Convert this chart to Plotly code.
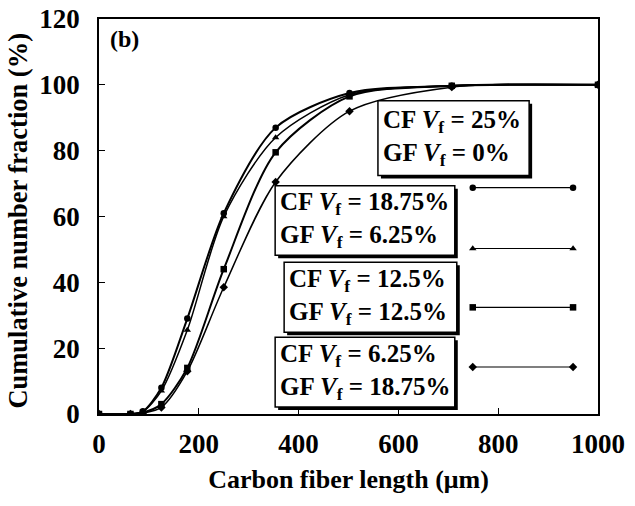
import plotly.graph_objects as go

# ---- data ----
fiber_length = [0, 63, 88, 125, 177, 250, 354, 502, 707, 1000]
cf25_gf0 = [0, 0, 0.8, 8, 29, 61, 87, 97.5, 99.7, 100]
cf1875_gf625 = [0, 0, 0.7, 7, 25.5, 60, 84, 97, 99.7, 100]
cf125_gf125 = [0, 0, 0.4, 3, 14, 44, 79.5, 96.5, 99.7, 100]
cf625_gf1875 = [0, 0, 0.3, 2, 13, 38.5, 70.5, 92, 99.3, 100]

series_labels = [
    ["CF <i>V</i><sub>f</sub> = 25%", "GF <i>V</i><sub>f</sub> = 0%"],
    ["CF <i>V</i><sub>f</sub> = 18.75%", "GF <i>V</i><sub>f</sub> = 6.25%"],
    ["CF <i>V</i><sub>f</sub> = 12.5%", "GF <i>V</i><sub>f</sub> = 12.5%"],
    ["CF <i>V</i><sub>f</sub> = 6.25%", "GF <i>V</i><sub>f</sub> = 18.75%"],
]
series_values = [cf25_gf0, cf1875_gf625, cf125_gf125, cf625_gf1875]
symbols = ["circle", "triangle-up", "square", "diamond"]
line_widths = [2, 1.5, 2, 1.5]

x_ticks = [0, 200, 400, 600, 800, 1000]
y_ticks = [0, 20, 40, 60, 80, 100, 120]

x_title = "Carbon fiber length (μm)"
y_title = "Cumulative number fraction (%)"

# ---- layout/style constants ----
FONT = "Liberation Serif"
# text boxes (paper coords): x0, x1, y0, y1
BOXES = [
    (0.559, 0.862, 0.604, 0.793),
    (0.353, 0.713, 0.402, 0.578),
    (0.371, 0.717, 0.207, 0.384),
    (0.353, 0.713, 0.018, 0.194),
]
# legend key samples (paper coords)
KEY_X = (0.749, 0.950)
KEY_Y = [0.573, 0.419, 0.270, 0.119]

fig = go.Figure()
for vals, sym, lw in zip(series_values, symbols, line_widths):
    fig.add_trace(go.Scatter(
        x=fiber_length, y=vals, mode="lines+markers",
        line=dict(color="black", width=lw, shape="spline", smoothing=0.8),
        marker=dict(symbol=sym, size=6.5, color="black"),
        showlegend=False, hoverinfo="skip",
    ))

# legend key samples on an overlay axis in paper-like units
for ky, sym in zip(KEY_Y, symbols):
    fig.add_trace(go.Scatter(
        x=list(KEY_X), y=[ky, ky], xaxis="x2", yaxis="y2",
        mode="lines+markers",
        line=dict(color="black", width=1.1),
        marker=dict(symbol=sym, size=6.5, color="black"),
        showlegend=False, hoverinfo="skip",
    ))

shapes = []
SH = 0.006  # shadow offset
for (x0, x1, y0, y1) in BOXES:
    shapes.append(dict(type="rect", xref="paper", yref="paper",
                       x0=x0 + SH, x1=x1 + SH, y0=y0 - SH * 1.26, y1=y1 - SH * 1.26,
                       fillcolor="black", line=dict(width=0), layer="above"))
    shapes.append(dict(type="rect", xref="paper", yref="paper",
                       x0=x0, x1=x1, y0=y0, y1=y1,
                       fillcolor="white", line=dict(color="black", width=1.5), layer="above"))

annotations = []
for (x0, x1, y0, y1), lab in zip(BOXES, series_labels):
    annotations.append(dict(
        xref="paper", yref="paper", x=x0 + 0.006, y=(y0 + y1) / 2,
        xanchor="left", yanchor="middle", align="left", showarrow=False,
        text="<b>" + lab[0] + "</b><br><b>" + lab[1] + "</b>",
        font=dict(family=FONT, size=25, color="black"),
    ))
annotations.append(dict(
    xref="paper", yref="paper", x=0.018, y=0.95, xanchor="left", yanchor="middle",
    showarrow=False, text="<b>(b)</b>", font=dict(family=FONT, size=24, color="black"),
))
# y-axis title
annotations.append(dict(
    xref="paper", yref="paper", x=-0.162, y=0.49, xanchor="center", yanchor="middle",
    textangle=-90, showarrow=False, text=f"<b>{y_title}</b>",
    font=dict(family=FONT, size=26.5, color="black"),
))

axis_common = dict(
    showline=True, linecolor="black", linewidth=1.5, mirror=True,
    ticks="inside", ticklen=6, tickwidth=1.2, tickcolor="black",
    showgrid=False, zeroline=False, automargin=False,
    tickfont=dict(family=FONT, size=27, color="black"),
)

fig.update_layout(
    width=635, height=506,
    margin=dict(l=99, r=37, t=19, b=92),
    paper_bgcolor="white", plot_bgcolor="white",
    xaxis=dict(range=[0, 1000], tickvals=x_ticks, ticktext=[f"<b>{v}</b>" for v in x_ticks],
               title=dict(text=f"<b>{x_title}</b>", standoff=12,
                          font=dict(family=FONT, size=26, color="black")),
               ticklabelstandoff=5, **axis_common),
    yaxis=dict(range=[0, 120], tickvals=y_ticks, ticktext=[f"<b>{v}</b>" for v in y_ticks],
               ticklabelstandoff=12, **axis_common),
    xaxis2=dict(overlaying="x", range=[0, 1], visible=False),
    yaxis2=dict(overlaying="y", range=[0, 1], visible=False),
    shapes=shapes, annotations=annotations,
)

fig.write_html("out.html")
